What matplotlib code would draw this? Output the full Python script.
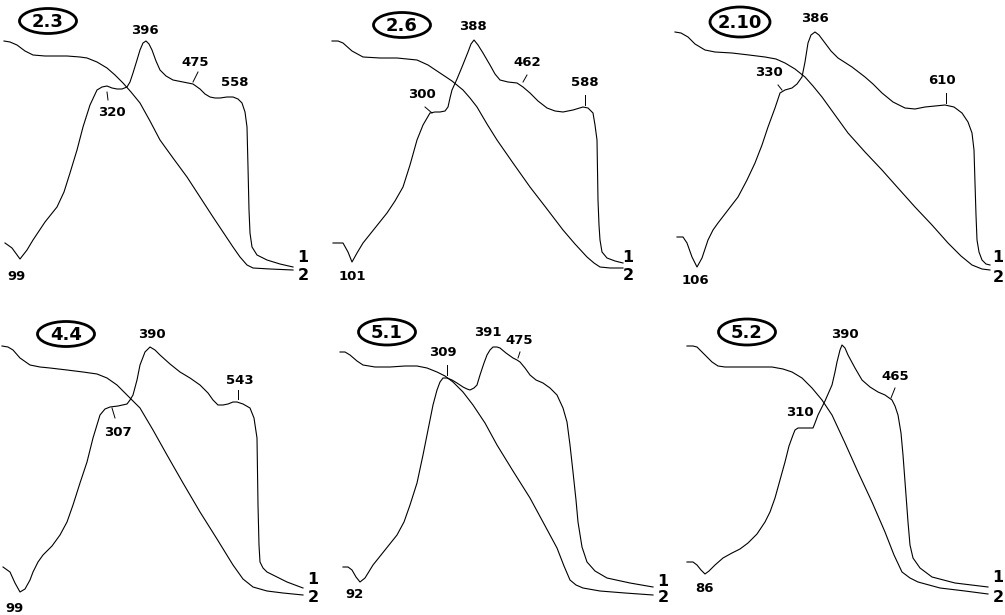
import matplotlib
matplotlib.use('Agg')
import matplotlib.pyplot as plt
from matplotlib.patches import Ellipse

# sample names (circled headers)
samples = ['2.3', '2.6', '2.10', '4.4', '5.1', '5.2']

# peak temperatures written on each curve 1
peaks_23 = ['99', '320', '396', '475', '558']
peaks_26 = ['101', '300', '388', '462', '588']
peaks_210 = ['106', '330', '386', '610']
peaks_44 = ['99', '307', '390', '543']
peaks_51 = ['92', '309', '391', '475']
peaks_52 = ['86', '310', '390', '465']

# curve 1 (DTA) and curve 2 (TG) in panel pixels
dta_23 = [(5, 243), (12, 248), (20, 259), (27, 250), (33, 240), (45, 222), (57, 207), (64, 192), (70, 173),
          (77, 150), (83, 127), (90, 105), (97, 90), (102, 87), (107, 86), (112, 88), (117, 89), (122, 89),
          (127, 87), (130, 82), (133, 73), (137, 60), (140, 50), (143, 43), (146, 41), (149, 44), (152, 50),
          (156, 61), (160, 70), (166, 76), (173, 80), (183, 82), (193, 84), (200, 89), (205, 94), (210, 97),
          (215, 98), (220, 98), (227, 97), (233, 97), (238, 99), (242, 103), (245, 112), (247, 127),
          (248, 167), (249, 210), (250, 233), (252, 247), (257, 255), (267, 260), (280, 264), (293, 267)]
tg_23 = [(4, 41), (10, 42), (17, 45), (25, 51), (33, 55), (45, 56), (67, 56), (80, 57), (87, 58), (97, 62),
         (107, 68), (115, 75), (123, 83), (131, 92), (140, 103), (150, 121), (160, 140), (173, 158),
         (187, 177), (200, 197), (213, 217), (223, 232), (233, 247), (240, 257), (247, 265), (253, 268),
         (270, 269), (293, 270)]

dta_26 = [(3, 243), (13, 243), (18, 252), (22, 262), (27, 253), (33, 243), (45, 228), (57, 213), (65, 201),
          (73, 187), (80, 165), (87, 140), (93, 125), (100, 113), (105, 112), (110, 112), (115, 111),
          (118, 107), (120, 98), (122, 90), (127, 79), (132, 67), (138, 52), (141, 44), (144, 40), (148, 45),
          (153, 53), (160, 65), (165, 74), (170, 80), (178, 82), (187, 83), (193, 87), (200, 93), (208, 101),
          (217, 108), (225, 111), (233, 112), (243, 110), (253, 107), (258, 108), (263, 113), (265, 125),
          (267, 140), (268, 200), (269, 225), (270, 240), (272, 252), (277, 258), (285, 261), (293, 263)]
tg_26 = [(2, 41), (8, 41), (13, 43), (22, 51), (33, 57), (50, 58), (67, 58), (87, 60), (98, 65), (110, 73),
         (122, 81), (133, 90), (140, 98), (147, 107), (157, 124), (167, 140), (183, 163), (200, 187),
         (217, 209), (233, 230), (245, 244), (257, 257), (264, 263), (270, 267), (280, 268), (293, 268)]

dta_210 = [(12, 237), (18, 237), (22, 243), (27, 257), (32, 267), (37, 258), (43, 240), (48, 230), (53, 223),
           (63, 210), (73, 197), (82, 180), (90, 163), (97, 145), (103, 127), (110, 108), (115, 93),
           (120, 90), (127, 88), (132, 84), (137, 77), (140, 62), (143, 43), (146, 35), (150, 32), (154, 35),
           (160, 43), (166, 51), (173, 58), (187, 67), (200, 77), (208, 84), (217, 93), (228, 102), (240, 108),
           (250, 109), (260, 107), (270, 106), (280, 105), (289, 107), (297, 113), (303, 122), (307, 133),
           (309, 150), (310, 183), (311, 215), (312, 240), (314, 252), (317, 260), (321, 264), (325, 265)]
tg_210 = [(10, 32), (16, 33), (23, 37), (30, 44), (40, 50), (50, 52), (67, 53), (84, 55), (100, 57),
          (111, 59), (120, 63), (130, 69), (140, 77), (148, 86), (157, 97), (170, 115), (183, 133),
          (200, 152), (217, 170), (233, 188), (250, 207), (267, 225), (283, 243), (296, 256), (307, 265),
          (317, 269), (325, 270)]

dta_44 = [(3, 262), (10, 267), (15, 278), (20, 287), (25, 284), (30, 275), (33, 267), (38, 257), (43, 250),
          (52, 241), (60, 230), (67, 217), (73, 200), (80, 178), (87, 157), (93, 133), (100, 110),
          (105, 104), (110, 102), (118, 101), (127, 99), (130, 95), (133, 90), (137, 75), (140, 60),
          (145, 47), (150, 42), (155, 45), (160, 50), (170, 59), (180, 67), (190, 73), (200, 80), (208, 88),
          (213, 95), (218, 100), (223, 100), (228, 99), (233, 97), (237, 97), (243, 99), (250, 103),
          (254, 113), (257, 133), (258, 200), (259, 240), (260, 257), (263, 263), (267, 267), (277, 272),
          (287, 277), (303, 283)]
tg_44 = [(2, 41), (8, 42), (13, 45), (20, 53), (30, 60), (40, 62), (50, 63), (67, 65), (83, 67), (97, 69),
         (107, 73), (117, 80), (127, 90), (133, 96), (140, 103), (153, 125), (167, 150), (183, 178),
         (200, 207), (217, 234), (233, 260), (243, 274), (253, 282), (267, 286), (283, 288), (303, 290)]

dta_51 = [(13, 262), (18, 262), (22, 265), (26, 272), (30, 277), (35, 273), (43, 260), (55, 245), (67, 230),
          (74, 217), (80, 200), (87, 178), (93, 150), (98, 125), (103, 100), (107, 85), (110, 77), (113, 73),
          (117, 73), (122, 75), (127, 78), (133, 82), (137, 84), (140, 85), (144, 83), (147, 80), (150, 70),
          (154, 58), (157, 50), (160, 45), (163, 42), (167, 42), (170, 43), (176, 48), (183, 53), (187, 55),
          (190, 57), (195, 63), (200, 70), (206, 75), (213, 78), (220, 83), (227, 90), (233, 103), (237, 117),
          (240, 140), (243, 167), (246, 195), (248, 217), (252, 242), (257, 257), (265, 266), (277, 273),
          (300, 278), (323, 282)]
tg_51 = [(10, 47), (15, 47), (20, 50), (27, 56), (33, 60), (45, 62), (60, 62), (75, 61), (87, 61), (97, 63),
         (107, 67), (115, 71), (123, 77), (133, 87), (143, 100), (155, 118), (167, 140), (183, 166),
         (200, 193), (213, 217), (227, 243), (234, 261), (240, 275), (246, 280), (253, 283), (270, 286),
         (295, 288), (323, 290)]

dta_52 = [(22, 257), (28, 257), (32, 260), (36, 265), (40, 269), (44, 266), (50, 260), (58, 253), (67, 248),
          (75, 244), (83, 238), (92, 229), (100, 217), (105, 207), (110, 193), (115, 175), (120, 157),
          (124, 141), (128, 130), (130, 125), (133, 123), (140, 123), (148, 123), (150, 118), (153, 110),
          (160, 96), (167, 80), (170, 67), (172, 57), (175, 45), (177, 40), (180, 43), (183, 50), (190, 63),
          (197, 75), (205, 82), (213, 87), (220, 90), (227, 95), (230, 101), (233, 110), (236, 128),
          (238, 150), (241, 190), (243, 217), (245, 240), (248, 253), (255, 263), (267, 272), (290, 278),
          (323, 282)]
tg_52 = [(22, 41), (28, 41), (32, 42), (40, 50), (47, 57), (53, 61), (60, 62), (80, 62), (107, 62),
         (118, 64), (127, 67), (137, 73), (147, 83), (157, 95), (167, 110), (180, 138), (193, 167),
         (207, 197), (220, 227), (229, 250), (237, 267), (245, 273), (253, 277), (275, 283), (300, 286),
         (323, 289)]

dta_curves = [dta_23, dta_26, dta_210, dta_44, dta_51, dta_52]
tg_curves = [tg_23, tg_26, tg_210, tg_44, tg_51, tg_52]
peak_values = [peaks_23, peaks_26, peaks_210, peaks_44, peaks_51, peaks_52]

# layout: panel origins in the figure, header ellipses, label spots, leader ticks
origins = [(0, 0), (330, 0), (665, 0), (0, 305), (330, 305), (665, 305)]
headers = [(48, 21, 57, 25), (72, 25, 57, 25), (75, 22, 60, 30),
           (66, 29, 57, 25), (57, 27, 57, 26), (82, 27, 57, 26)]
label_pos = [
    [(17, 276), (112, 113), (145, 30), (195, 62), (235, 83)],
    [(22, 276), (92, 95), (143, 27), (197, 63), (255, 83)],
    [(30, 280), (104, 73), (150, 18), (277, 80)],
    [(14, 303), (118, 127), (152, 30), (240, 75)],
    [(25, 290), (113, 48), (158, 28), (189, 36)],
    [(40, 283), (135, 108), (180, 29), (230, 72)],
]
leaders = [
    [((107, 92), (108, 100)), ((198, 72), (193, 82))],
    [((95, 107), (102, 113)), ((197, 75), (193, 82)), ((255, 95), (255, 105))],
    [((113, 85), (117, 90)), ((281, 93), (281, 103))],
    [((112, 103), (115, 113)), ((238, 85), (238, 94))],
    [((117, 60), (117, 70)), ((190, 47), (188, 53))],
    [((230, 83), (226, 93))],
]
curve_nums = [((303, 257), (303, 275)), ((298, 257), (298, 275)), ((333, 257), (333, 278)),
              ((313, 275), (313, 293)), ((333, 276), (333, 293)), ((333, 273), (333, 292))]

plt.rcParams['font.family'] = ['DejaVu Sans']

fig = plt.figure(figsize=(10.05, 6.15), dpi=100)
ax = fig.add_axes([0, 0, 1, 1])
ax.set_xlim(0, 1005)
ax.set_ylim(615, 0)
ax.axis('off')

for i in range(6):
    ox, oy = origins[i]
    for curve in (dta_curves[i], tg_curves[i]):
        xs = [ox + p[0] for p in curve]
        ys = [oy + p[1] for p in curve]
        ax.plot(xs, ys, color='black', lw=0.8, solid_joinstyle='round')

    cx, cy, w, h = headers[i]
    ax.add_patch(Ellipse((ox + cx, oy + cy), w, h, fill=False, lw=2.0, ec='black'))
    ax.text(ox + cx, oy + cy + 1, samples[i], ha='center', va='center',
            fontsize=13, fontweight='bold')

    for val, (lx, ly) in zip(peak_values[i], label_pos[i]):
        ax.text(ox + lx, oy + ly, val, ha='center', va='center', fontsize=9.5, fontweight='bold')
    for (x0, y0), (x1, y1) in leaders[i]:
        ax.plot([ox + x0, ox + x1], [oy + y0, oy + y1], color='black', lw=0.7)

    (n1x, n1y), (n2x, n2y) = curve_nums[i]
    ax.text(ox + n1x, oy + n1y, '1', ha='center', va='center', fontsize=11.5, fontweight='bold')
    ax.text(ox + n2x, oy + n2y, '2', ha='center', va='center', fontsize=11.5, fontweight='bold')

fig.savefig('out.png', dpi=100, facecolor='white')
